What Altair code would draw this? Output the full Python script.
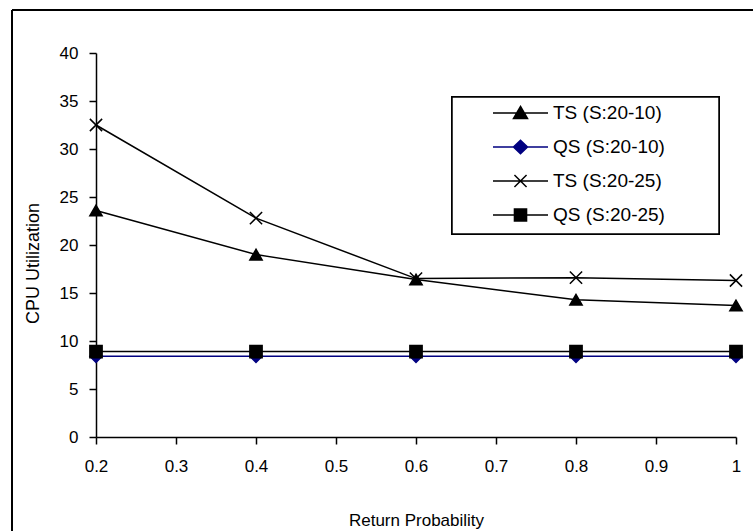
import altair as alt
import pandas as pd

# ---- data ----
prob = [0.2, 0.4, 0.6, 0.8, 1.0]
series_names = ["TS (S:20-10)", "QS (S:20-10)", "TS (S:20-25)", "QS (S:20-25)"]
ts_20_10 = [23.6, 19.0, 16.4, 14.3, 13.7]
qs_20_10 = [8.4, 8.4, 8.4, 8.4, 8.4]
ts_20_25 = [32.5, 22.8, 16.5, 16.6, 16.3]
qs_20_25 = [8.9, 8.9, 8.9, 8.9, 8.9]
series_colors = ["#000000", "#000080", "#000000", "#000000"]
x_ticks = [0.2, 0.3, 0.4, 0.5, 0.6, 0.7, 0.8, 0.9, 1.0]
y_ticks = [0, 5, 10, 15, 20, 25, 30, 35, 40]

values = [ts_20_10, qs_20_10, ts_20_25, qs_20_25]
rows = []
for name, vals in zip(series_names, values):
    for p, v in zip(prob, vals):
        rows.append({"p": p, "value": v, "series": name})
df = pd.DataFrame(rows)

X_PATH = "M-1,-1L1,1M-1,1L1,-1"
marker_shapes = ["triangle-up", "diamond", X_PATH, "square"]
legend_shapes = [
    "M-1,0H1M0,-0.24L0.255,0.2L-0.255,0.2Z",
    "M-1,0H1M0,-0.24L0.255,0L0,0.24L-0.255,0Z",
    "M-1,0H1M-0.22,-0.22L0.22,0.22M-0.22,0.22L0.22,-0.22",
    "M-1,0H1M-0.22,-0.22H0.22V0.22H-0.22Z",
]

FONT = "Liberation Sans"

x_enc = alt.X(
    "p:Q",
    scale=alt.Scale(domain=[0.2, 1.0], nice=False, zero=False),
    axis=alt.Axis(
        values=x_ticks,
        format="~g",
        title="Return Probability",
        titleFont=FONT,
        titleFontSize=17,
        titleFontWeight="normal",
        titleY=83,
        titleBaseline="middle",
        labelPadding=14,
    ),
)
y_enc = alt.Y(
    "value:Q",
    scale=alt.Scale(domain=[0, 40], nice=False),
    axis=alt.Axis(
        values=y_ticks,
        title="CPU Utilization",
        titleFont=FONT,
        titleFontSize=18,
        titleFontWeight="normal",
        titleX=-63,
        titleY=210,
        titleAngle=270,
        titleAlign="center",
        titleBaseline="middle",
        labelPadding=11,
    ),
)

color_scale = alt.Scale(domain=series_names, range=series_colors)
base = alt.Chart(df)

lines = base.mark_line(strokeWidth=1.5).encode(
    x=x_enc,
    y=y_enc,
    color=alt.Color("series:N", scale=color_scale, legend=None),
)

points = base.mark_point(filled=True, strokeWidth=1.5, opacity=1, size=150).encode(
    x=x_enc,
    y=y_enc,
    color=alt.Color("series:N", scale=color_scale, legend=None),
    stroke=alt.Stroke("series:N", scale=color_scale, legend=None),
    shape=alt.Shape("series:N", scale=alt.Scale(domain=series_names, range=marker_shapes), legend=None),
)

legend_layer = base.transform_filter("datum.p > 5").mark_point(
    filled=True, strokeWidth=1.5, opacity=1
).encode(
    x=x_enc,
    y=y_enc,
    color=alt.Color("series:N", scale=color_scale, legend=alt.Legend(title=None)),
    stroke=alt.Stroke("series:N", scale=color_scale, legend=alt.Legend(title=None)),
    shape=alt.Shape("series:N", scale=alt.Scale(domain=series_names, range=legend_shapes),
                    legend=alt.Legend(title=None)),
)

legend_box = base.mark_rect(fill="white", stroke="black", strokeWidth=1.5).encode(
    x=alt.value(356), x2=alt.value(623), y=alt.value(44), y2=alt.value(181)
)

frame_left = base.mark_rule(color="black", strokeWidth=2).encode(
    x=alt.value(-84), y=alt.value(-43), y2=alt.value(700)
)
frame_top = base.mark_rule(color="black", strokeWidth=2).encode(
    x=alt.value(-84), x2=alt.value(900), y=alt.value(-43)
)

chart = (
    alt.layer(frame_left, frame_top, legend_box, lines, points, legend_layer)
    .resolve_scale(color="independent", stroke="independent", shape="independent")
    .properties(
        width=640,
        height=384,
        autosize=alt.AutoSizeParams(type="none"),
        padding={"left": 96, "top": 53, "right": 17, "bottom": 94},
        background="white",
    )
    .configure_view(stroke=None)
    .configure_axis(
        grid=False,
        domainColor="black",
        domainWidth=1.5,
        tickColor="black",
        tickWidth=1.5,
        tickSize=7,
        labelFont=FONT,
        labelFontSize=17,
        labelColor="black",
        labelFlush=False,
        labelOverlap=False,
        titleColor="black",
    )
    .configure_legend(
        orient="none",
        legendX=396,
        legendY=43,
        padding=0,
        symbolSize=3025,
        symbolStrokeWidth=1.5,
        clipHeight=34,
        rowPadding=0,
        labelOffset=4,
        labelFont=FONT,
        labelFontSize=19,
        labelColor="black",
        labelLimit=300,
    )
)

chart.save("out.html", embed_options={"renderer": "svg", "actions": False})
